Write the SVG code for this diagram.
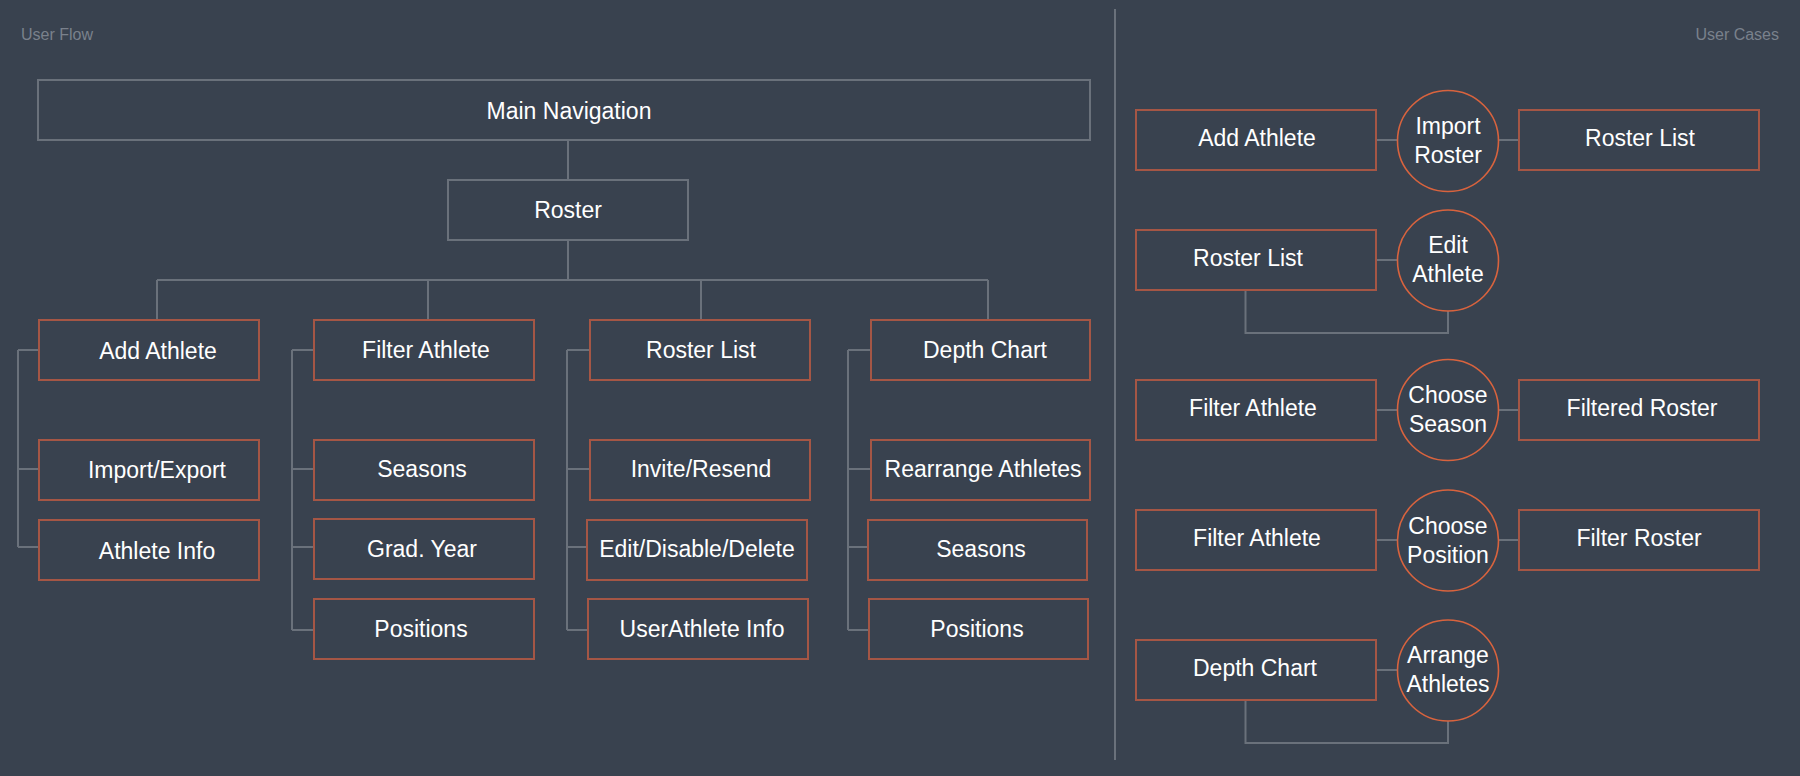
<svg xmlns="http://www.w3.org/2000/svg" width="1800" height="776" viewBox="0 0 1800 776">
<style>
.bg{fill:#39424f}
.gbox{fill:none;stroke:#6a717b;stroke-width:2}
.obox{fill:none;stroke:#a55645;stroke-width:2}
.circ{fill:none;stroke:#d8633e;stroke-width:1.6}
.ln{fill:none;stroke:#6a717b;stroke-width:2}
.t{font-family:"Liberation Sans",Arial,sans-serif;font-size:23px;fill:#ffffff;text-anchor:middle}
.lbl{font-family:"Liberation Sans",Arial,sans-serif;font-size:16px;fill:#7a818c}
</style>
<rect class="bg" x="0" y="0" width="1800" height="776"/>
<text class="lbl" x="21" y="40">User Flow</text>
<text class="lbl" x="1779" y="40" text-anchor="end">User Cases</text>
<g id="connectors">
<line class="ln" x1="1115" y1="9" x2="1115" y2="760" stroke-width="1.5"/>
<path class="ln" d="M568 140V180M568 240V280M157 280H988M157 280V320M428 280V320M701 280V320M988 280V320"/>
<path class="ln" d="M18 350V547M18 350H39M18 469H39M18 547H39"/>
<path class="ln" d="M292 350V630M292 350H314M292 469H314M292 547H314M292 630H314"/>
<path class="ln" d="M567 350V630M567 350H590M567 469H590M567 547H587M567 630H588"/>
<path class="ln" d="M848 350V630M848 350H871M848 469H871M848 547H868M848 630H869"/>
<path class="ln" d="M1376 140H1397M1498 140H1519"/>
<path class="ln" d="M1376 260H1397M1245.5 290V333H1448V311"/>
<path class="ln" d="M1376 410H1397M1498 410H1519"/>
<path class="ln" d="M1376 540H1397M1498 540H1519"/>
<path class="ln" d="M1376 670H1397M1245.5 700V743H1448V721"/>
</g>
<g id="main-navigation"><rect class="gbox" x="38" y="80" width="1052" height="60"/><text class="t" x="569" y="119">Main Navigation</text></g>
<g id="roster"><rect class="gbox" x="448" y="180" width="240" height="60"/><text class="t" x="568" y="218">Roster</text></g>
<g id="add-athlete"><rect class="obox" x="39" y="320" width="220" height="60"/><text class="t" x="158" y="359">Add Athlete</text></g>
<g id="import-export"><rect class="obox" x="39" y="440" width="220" height="60"/><text class="t" x="157" y="478">Import/Export</text></g>
<g id="athlete-info"><rect class="obox" x="39" y="520" width="220" height="60"/><text class="t" x="157" y="559">Athlete Info</text></g>
<g id="filter-athlete"><rect class="obox" x="314" y="320" width="220" height="60"/><text class="t" x="426" y="358">Filter Athlete</text></g>
<g id="seasons-1"><rect class="obox" x="314" y="440" width="220" height="60"/><text class="t" x="422" y="477">Seasons</text></g>
<g id="grad-year"><rect class="obox" x="314" y="519" width="220" height="60"/><text class="t" x="422" y="557">Grad. Year</text></g>
<g id="positions-1"><rect class="obox" x="314" y="599" width="220" height="60"/><text class="t" x="421" y="637">Positions</text></g>
<g id="roster-list"><rect class="obox" x="590" y="320" width="220" height="60"/><text class="t" x="701" y="358">Roster List</text></g>
<g id="invite-resend"><rect class="obox" x="590" y="440" width="220" height="60"/><text class="t" x="701" y="477">Invite/Resend</text></g>
<g id="edit-disable-delete"><rect class="obox" x="587" y="520" width="220" height="60"/><text class="t" x="697" y="557">Edit/Disable/Delete</text></g>
<g id="userathlete-info"><rect class="obox" x="588" y="599" width="220" height="60"/><text class="t" x="702" y="637">UserAthlete Info</text></g>
<g id="depth-chart"><rect class="obox" x="871" y="320" width="219" height="60"/><text class="t" x="985" y="358">Depth Chart</text></g>
<g id="rearrange-athletes"><rect class="obox" x="871" y="440" width="219" height="60"/><text class="t" x="983" y="477">Rearrange Athletes</text></g>
<g id="seasons-2"><rect class="obox" x="868" y="520" width="219" height="60"/><text class="t" x="981" y="557">Seasons</text></g>
<g id="positions-2"><rect class="obox" x="869" y="599" width="219" height="60"/><text class="t" x="977" y="637">Positions</text></g>
<g id="uc-add-athlete"><rect class="obox" x="1136" y="110" width="240" height="60"/><text class="t" x="1257" y="146">Add Athlete</text></g>
<g id="uc-import-roster"><circle class="circ" cx="1448" cy="141" r="50.5"/><text class="t" x="1448" y="134">Import</text><text class="t" x="1448" y="163">Roster</text></g>
<g id="uc-roster-list-1"><rect class="obox" x="1519" y="110" width="240" height="60"/><text class="t" x="1640" y="146">Roster List</text></g>
<g id="uc-roster-list-2"><rect class="obox" x="1136" y="230" width="240" height="60"/><text class="t" x="1248" y="266">Roster List</text></g>
<g id="uc-edit-athlete"><circle class="circ" cx="1448" cy="260.5" r="50.5"/><text class="t" x="1448" y="253">Edit</text><text class="t" x="1448" y="282">Athlete</text></g>
<g id="uc-filter-athlete-1"><rect class="obox" x="1136" y="380" width="240" height="60"/><text class="t" x="1253" y="416">Filter Athlete</text></g>
<g id="uc-choose-season"><circle class="circ" cx="1448" cy="410" r="50.5"/><text class="t" x="1448" y="403">Choose</text><text class="t" x="1448" y="432">Season</text></g>
<g id="uc-filtered-roster"><rect class="obox" x="1519" y="380" width="240" height="60"/><text class="t" x="1642" y="416">Filtered Roster</text></g>
<g id="uc-filter-athlete-2"><rect class="obox" x="1136" y="510" width="240" height="60"/><text class="t" x="1257" y="546">Filter Athlete</text></g>
<g id="uc-choose-position"><circle class="circ" cx="1448" cy="540.5" r="50.5"/><text class="t" x="1448" y="534">Choose</text><text class="t" x="1448" y="563">Position</text></g>
<g id="uc-filter-roster"><rect class="obox" x="1519" y="510" width="240" height="60"/><text class="t" x="1639" y="546">Filter Roster</text></g>
<g id="uc-depth-chart"><rect class="obox" x="1136" y="640" width="240" height="60"/><text class="t" x="1255" y="676">Depth Chart</text></g>
<g id="uc-arrange-athletes"><circle class="circ" cx="1448" cy="670.5" r="50.5"/><text class="t" x="1448" y="663">Arrange</text><text class="t" x="1448" y="692">Athletes</text></g>
</svg>
